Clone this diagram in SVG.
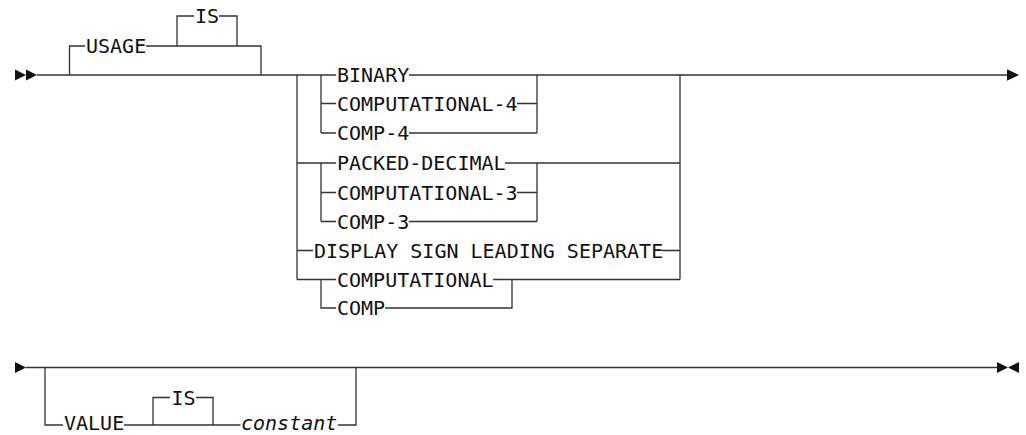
<svg xmlns="http://www.w3.org/2000/svg" width="1026" height="435" viewBox="0 0 1026 435">
<style>
.c{fill:none;stroke:#333;stroke-width:1.3;stroke-linecap:butt}
.ah{fill:#111;stroke:none}
text{font-family:"DejaVu Sans Mono","Liberation Mono",monospace;font-size:20px;fill:#111}
.v{font-style:italic}
</style>
<rect width="1026" height="435" fill="#fff"/>
<g id="connectors">
<polygon class="ah" points="15,69.5 26,75 15,80.5"/>
<polygon class="ah" points="26,69.5 37,75 26,80.5"/>
<path class="c" d="M37 75 H336 M409 75 H1007"/>
<polygon class="ah" points="1007,69.3 1019,75 1007,80.7"/>
<path class="c" d="M69.5 75 V46 H85 M146 46 H261 V75"/>
<path class="c" d="M177 46 V16 H194 M219 16 H237 V46"/>
<path class="c" d="M297 75 V279.5 M680 75 V279.5"/>
<path class="c" d="M321 75 V133 M321 103.5 H336 M321 133 H336 M517 103.5 H537 M409 133 H537 M537 75 V133"/>
<path class="c" d="M297 163 H336 M505 163 H680 M321 163 V221.5 M321 192.5 H336 M321 221.5 H336 M517 192.5 H537 M409 221.5 H537 M537 163 V221.5"/>
<path class="c" d="M297 250.5 H313 M662 250.5 H680"/>
<path class="c" d="M297 279.5 H336 M493 279.5 H680 M321 279.5 V308 H336 M385 308 H512 V279.5"/>
<polygon class="ah" points="15,362 26,367.5 15,373"/>
<path class="c" d="M26 367.5 H997"/>
<polygon class="ah" points="997,362 1008,367.5 997,373"/>
<polygon class="ah" points="1019,362 1008,367.5 1019,373"/>
<path class="c" d="M45 367.5 V425 H63 M124 425 H240.5 M153 425 V397.5 H170 M196 397.5 H213 V425 M338 425 H356 V367.5"/>
</g>
<g id="usage"><text x="86" y="53.3">USAGE</text></g>
<g id="is1"><text x="195" y="23.3">IS</text></g>
<g id="binary"><text x="337" y="82.3">BINARY</text></g>
<g id="comp4l"><text x="337" y="110.8">COMPUTATIONAL-4</text></g>
<g id="comp4"><text x="337" y="140.3">COMP-4</text></g>
<g id="packed"><text x="337" y="170.3">PACKED-DECIMAL</text></g>
<g id="comp3l"><text x="337" y="199.8">COMPUTATIONAL-3</text></g>
<g id="comp3"><text x="337" y="228.8">COMP-3</text></g>
<g id="display"><text x="314" y="257.8">DISPLAY SIGN LEADING SEPARATE</text></g>
<g id="compl"><text x="337" y="286.8">COMPUTATIONAL</text></g>
<g id="comp"><text x="337" y="315.3">COMP</text></g>
<g id="value"><text x="64" y="430.2">VALUE</text></g>
<g id="is2"><text x="171.5" y="404.8">IS</text></g>
<g id="constant"><text class="v" x="241" y="430.2">constant</text></g>
</svg>
